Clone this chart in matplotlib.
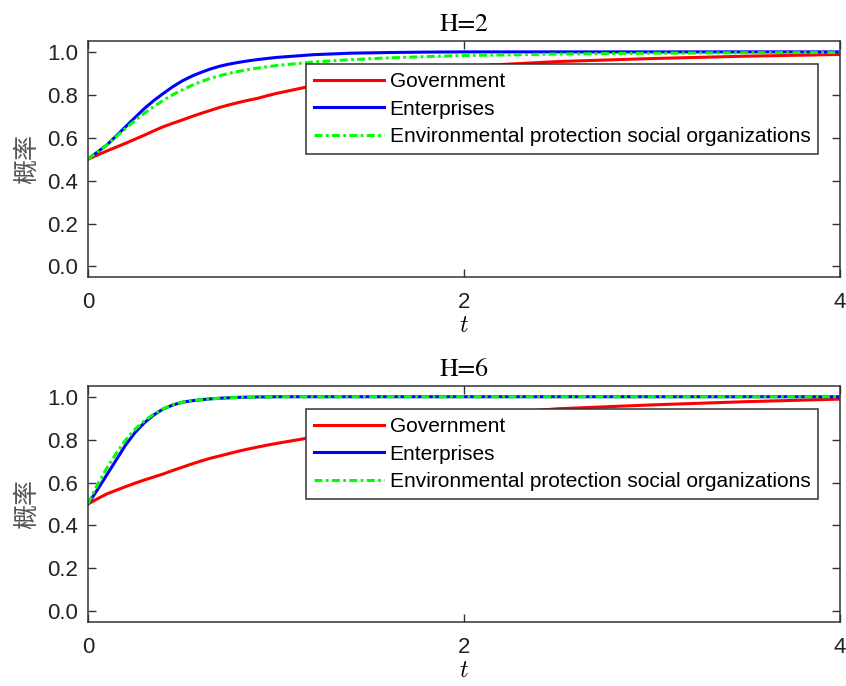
import numpy as np
import matplotlib.pyplot as plt

plt.rcParams['mathtext.fontset'] = 'cm'

# time grid
t = [0, 0.05, 0.1, 0.15, 0.2, 0.25, 0.3, 0.35, 0.4, 0.45, 0.5, 0.55, 0.6, 0.65, 0.7,
     0.75, 0.8, 0.85, 0.9, 0.95, 1.0, 1.2, 1.4, 1.6, 1.8, 2.0, 2.5, 3.0, 3.5, 4.0]

# H=2
gov_h2 = [0.5, 0.519, 0.538, 0.556, 0.574, 0.593, 0.612, 0.632, 0.651, 0.667, 0.682, 0.698,
          0.713, 0.727, 0.741, 0.753, 0.764, 0.774, 0.783, 0.795, 0.806,
          0.843, 0.872, 0.897, 0.917, 0.932, 0.955, 0.969, 0.98, 0.988]
ent_h2 = [0.5, 0.533, 0.566, 0.608, 0.651, 0.694, 0.736, 0.773, 0.806, 0.837, 0.864, 0.886,
          0.904, 0.92, 0.933, 0.943, 0.951, 0.958, 0.964, 0.969, 0.974,
          0.987, 0.994, 0.997, 0.999, 1.0, 1.0, 1.0, 1.0, 1.0]
env_h2 = [0.5, 0.533, 0.566, 0.605, 0.643, 0.68, 0.714, 0.745, 0.774, 0.80, 0.822, 0.843,
          0.861, 0.876, 0.889, 0.90, 0.909, 0.917, 0.924, 0.93, 0.936,
          0.953, 0.964, 0.972, 0.978, 0.983, 0.99, 0.994, 0.996, 0.997]

# H=6
gov_h6 = [0.5, 0.524, 0.547, 0.564, 0.581, 0.597, 0.612, 0.626, 0.64, 0.656, 0.671, 0.686,
          0.70, 0.713, 0.724, 0.735, 0.746, 0.756, 0.765, 0.774, 0.782,
          0.812, 0.843, 0.87, 0.892, 0.91, 0.944, 0.962, 0.977, 0.989]
ent_h6 = [0.5, 0.566, 0.636, 0.705, 0.775, 0.833, 0.879, 0.915, 0.943, 0.961, 0.974, 0.981,
          0.986, 0.99, 0.993, 0.995, 0.997, 0.998, 0.999, 0.999, 1.0,
          1.0, 1.0, 1.0, 1.0, 1.0, 1.0, 1.0, 1.0, 1.0]
env_h6 = [0.5, 0.589, 0.667, 0.736, 0.798, 0.848, 0.888, 0.919, 0.944, 0.962, 0.974, 0.981,
          0.986, 0.99, 0.993, 0.995, 0.997, 0.998, 0.999, 0.999, 1.0,
          1.0, 1.0, 1.0, 1.0, 1.0, 1.0, 1.0, 1.0, 1.0]

labels = ["Government", "Enterprises", "Environmental protection social organizations"]
titles = ["H=2", "H=6"]
panels = [(gov_h2, ent_h2, env_h2), (gov_h6, ent_h6, env_h6)]

fig = plt.figure(figsize=(8.46, 6.86), dpi=100)
rects = [[0.104, 0.596, 0.889, 0.344], [0.104, 0.0933, 0.889, 0.344]]
dark = '#333333'

for rect, title, (gov, ent, env) in zip(rects, titles, panels):
    ax = fig.add_axes(rect)
    ax.plot(t, gov, color='red', lw=2.2, label=labels[0])
    ax.plot(t, ent, color='blue', lw=2.2, label=labels[1])
    ax.plot(t, env, color=(0, 1, 0), lw=2.2, dashes=(2.6, 1.1, 0.9, 1.1), label=labels[2])

    ax.set_xlim(0, 4)
    ax.set_ylim(-0.05, 1.05)
    ax.set_xticks([0, 2, 4])
    ax.set_yticks([0, 0.2, 0.4, 0.6, 0.8, 1.0])
    ax.set_yticklabels(['0.0', '0.2', '0.4', '0.6', '0.8', '1.0'])
    ax.tick_params(direction='in', top=True, right=True, length=6, width=1,
                   color=dark, labelsize=16, labelcolor='#222222',
                   labelfontfamily='Liberation Sans')
    ax.tick_params(axis='x', pad=11)
    ax.tick_params(axis='y', pad=7)
    for s in ax.spines.values():
        s.set_color(dark)
        s.set_linewidth(1.1)

    ax.set_title(title, fontfamily='STIXGeneral', fontsize=18.5, pad=7)
    ax.set_xlabel(r'$t$', fontsize=17, labelpad=0)
    ax.set_ylabel('概率', fontfamily=['Noto Sans CJK SC', 'DejaVu Sans'],
                  fontsize=18, color='#555555', labelpad=5)

    leg = ax.legend(loc='upper right', bbox_to_anchor=(0.971, 0.903), borderaxespad=0,
                    fancybox=False, framealpha=1, edgecolor=dark,
                    prop={'family': 'Liberation Sans', 'size': 15},
                    handlelength=3.4, handletextpad=0.25, labelspacing=0.42,
                    borderpad=0.38)
    leg.get_frame().set_linewidth(1.1)

fig.savefig('out.png', dpi=100)
